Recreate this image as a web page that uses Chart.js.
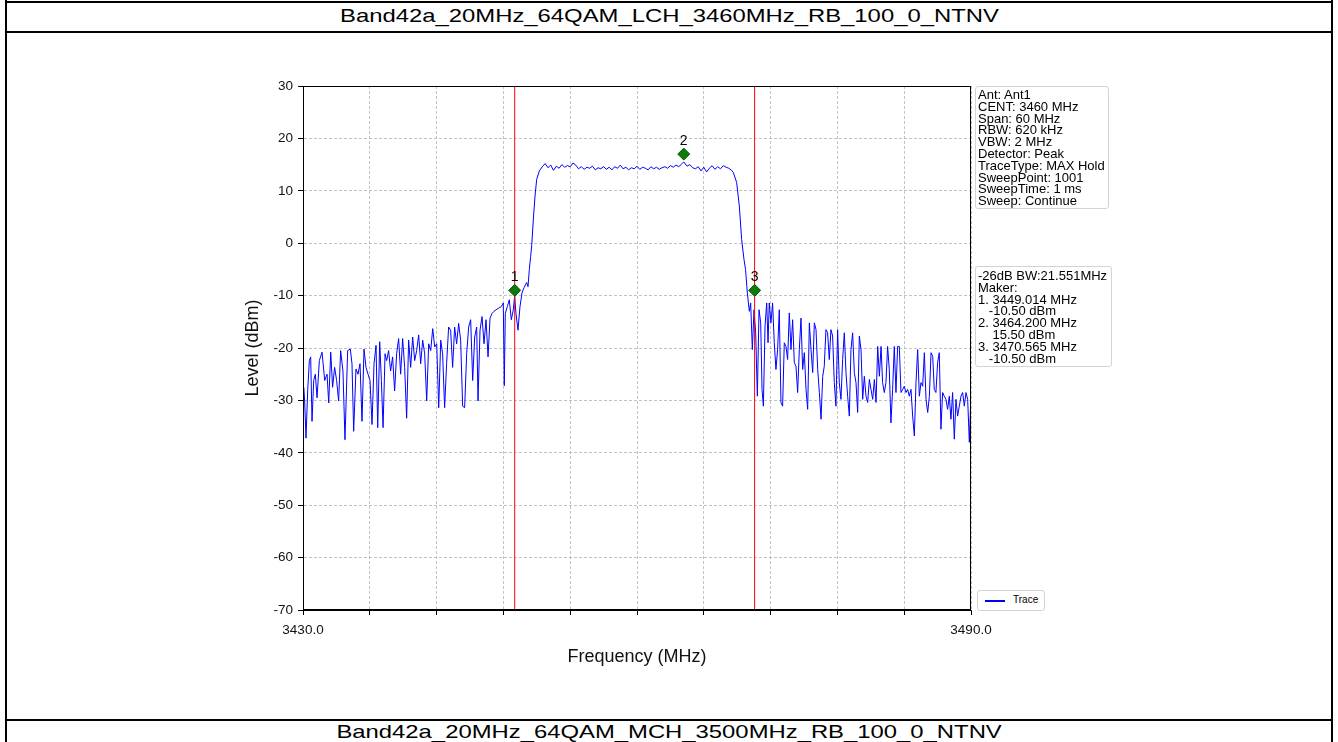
<!DOCTYPE html>
<html>
<head>
<meta charset="utf-8">
<script src="https://cdn.jsdelivr.net/npm/chart.js@4.4.0/dist/chart.umd.min.js"></script>
<style>
  body { margin: 0; width: 1338px; height: 742px; background: #fff; position: relative; overflow: hidden;
         font-family: "Liberation Sans", Arial, sans-serif; color: #000; }
  .rule { position: absolute; background: #000; }
  .caption { position: absolute; left: 0; width: 1338px; text-align: center; font-size: 19px; line-height: 22px; }
  .caption span { display: inline-block; transform: scaleX(1.255); }
  #plotBox { position: absolute; left: 218px; top: 40px; width: 909px; height: 672px; }
  .info { position: absolute; box-sizing: border-box; border: 1px solid #d4d4d4; border-radius: 3px; background: #fff;
          font-size: 13px; line-height: 11.8px; padding: 2px 0 0 2px; white-space: pre; }
  #legend { position: absolute; left: 977px; top: 590px; width: 68px; height: 21px; box-sizing: border-box;
            border: 1px solid #d4d4d4; border-radius: 3px; background: #fff; font-size: 10px; }
  #legend .swatch { position: absolute; left: 7px; top: 9px; width: 20px; height: 1.5px; background: #0000ff; }
  #legend .txt { position: absolute; left: 35px; top: 3px; }
</style>
</head>
<body>
<div class="rule" style="left:5px;top:0;width:2px;height:742px"></div>
<div class="rule" style="left:1331px;top:0;width:2px;height:742px"></div>
<div class="rule" style="left:5px;top:1px;width:1328px;height:2px"></div>
<div class="rule" style="left:5px;top:31px;width:1328px;height:2px"></div>
<div class="rule" style="left:5px;top:719px;width:1328px;height:2px"></div>
<div class="caption" style="top:5px"><span>Band42a_20MHz_64QAM_LCH_3460MHz_RB_100_0_NTNV</span></div>
<div class="caption" style="top:721px"><span>Band42a_20MHz_64QAM_MCH_3500MHz_RB_100_0_NTNV</span></div>

<div id="plotBox"><canvas id="specChart" width="909" height="672"></canvas></div>
<div class="info" id="settingsBox" style="left:975px;top:86px;width:134px;height:123px"></div>
<div class="info" id="markerBox" style="left:975px;top:266px;width:137px;height:101px;padding-top:3px"></div>
<div id="legend"><div class="swatch"></div><div class="txt">Trace</div></div>

<script>
// spectrum trace (MHz, dBm)
const traceFreq = [
  3430.00, 3430.06, 3430.15, 3430.27, 3430.42, 3430.57, 3430.69, 3430.81, 3430.96, 3431.11,
  3431.26, 3431.47, 3431.71, 3431.95, 3432.16, 3432.31, 3432.49, 3432.66, 3432.84, 3433.02,
  3433.20, 3433.38, 3433.59, 3433.77, 3434.01, 3434.25, 3434.40, 3434.55, 3434.76, 3434.94,
  3435.12, 3435.30, 3435.48, 3435.66, 3435.84, 3436.02, 3436.20, 3436.38, 3436.56, 3436.71,
  3436.89, 3437.04, 3437.19, 3437.37, 3437.51, 3437.69, 3437.87, 3438.05, 3438.23, 3438.41,
  3438.59, 3438.77, 3438.95, 3439.13, 3439.31, 3439.49, 3439.67, 3439.85, 3440.03, 3440.21,
  3440.39, 3440.57, 3440.75, 3440.93, 3441.11, 3441.29, 3441.47, 3441.65, 3441.83, 3442.01,
  3442.19, 3442.37, 3442.54, 3442.72, 3442.90, 3443.08, 3443.26, 3443.44, 3443.62, 3443.80,
  3443.98, 3444.16, 3444.34, 3444.52, 3444.70, 3444.88, 3445.06, 3445.24, 3445.42, 3445.60,
  3445.72, 3445.90, 3446.08, 3446.26, 3446.44, 3446.62, 3446.80, 3446.98, 3447.16, 3447.34,
  3447.57, 3447.81, 3447.99, 3448.08, 3448.17, 3448.35, 3448.53, 3448.71, 3448.89, 3449.01,
  3449.13, 3449.31, 3449.49, 3449.67, 3449.85, 3450.09, 3450.21, 3450.33, 3450.45, 3450.54,
  3450.69, 3450.84, 3450.99, 3451.23,
  3451.50, 3451.75, 3452.00, 3452.25, 3452.50, 3452.75, 3453.00, 3453.25, 3453.50, 3453.75,
  3454.00, 3454.25, 3454.50, 3454.75, 3455.00, 3455.25, 3455.50, 3455.75, 3456.00, 3456.25,
  3456.50, 3456.75, 3457.00, 3457.25, 3457.50, 3457.75, 3458.00, 3458.25, 3458.50, 3458.75,
  3459.00, 3459.25, 3459.50, 3459.75, 3460.00, 3460.25, 3460.50, 3460.75, 3461.00, 3461.25,
  3461.50, 3461.75, 3462.00, 3462.25, 3462.50, 3462.75, 3463.00, 3463.25, 3463.50, 3463.75,
  3464.00, 3464.20, 3464.50, 3464.75, 3465.00, 3465.25, 3465.50, 3465.75, 3466.00, 3466.25,
  3466.50, 3466.75, 3467.00, 3467.25, 3467.50, 3467.75, 3468.00, 3468.25, 3468.50,
  3468.65, 3468.95, 3469.19, 3469.40, 3469.61, 3469.75, 3469.91, 3470.09, 3470.21, 3470.36,
  3470.51, 3470.66, 3470.81, 3470.96, 3471.11, 3471.23, 3471.35, 3471.50, 3471.65, 3471.77,
  3471.88, 3472.03, 3472.18, 3472.33, 3472.48, 3472.63, 3472.78, 3472.93, 3473.08, 3473.23,
  3473.38, 3473.53, 3473.68, 3473.83, 3473.98, 3474.13, 3474.28, 3474.43, 3474.58, 3474.73,
  3474.88, 3475.03, 3475.18, 3475.33, 3475.48, 3475.63, 3475.78, 3475.93, 3476.08, 3476.23,
  3476.38, 3476.53, 3476.68, 3476.82, 3476.97, 3477.12, 3477.27, 3477.42, 3477.57, 3477.72,
  3477.87, 3478.02, 3478.17, 3478.32, 3478.47, 3478.62, 3478.77, 3478.92, 3479.07, 3479.22,
  3479.37, 3479.52, 3479.67, 3479.82, 3479.97, 3480.12, 3480.27, 3480.42, 3480.57, 3480.72,
  3480.87, 3481.02, 3481.17, 3481.32, 3481.47, 3481.62, 3481.77, 3481.92, 3482.06, 3482.21,
  3482.36, 3482.51, 3482.66, 3482.81, 3482.96, 3483.11, 3483.26, 3483.41, 3483.56, 3483.71,
  3483.86, 3484.01, 3484.16, 3484.31, 3484.46, 3484.61, 3484.76, 3484.91, 3485.06, 3485.21,
  3485.36, 3485.51, 3485.66, 3485.81, 3485.96, 3486.11, 3486.26, 3486.41, 3486.56, 3486.70,
  3486.85, 3487.00, 3487.15, 3487.30, 3487.45, 3487.60, 3487.75, 3487.90, 3488.05, 3488.20,
  3488.35, 3488.50, 3488.65, 3488.80, 3488.95, 3489.10, 3489.25, 3489.40, 3489.55, 3489.70,
  3489.85, 3489.97, 3490.00
];
const traceLevel = [
  -31.0, -27.5, -30.1, -37.2, -28.2, -22.4, -21.7, -34.0, -26.2, -25.0,
  -29.5, -22.4, -20.8, -26.2, -25.0, -30.5, -20.8, -27.5, -23.7, -26.2,
  -30.1, -20.5, -24.4, -37.5, -20.5, -20.2, -23.0, -35.9, -24.0, -25.0,
  -23.0, -34.0, -20.2, -23.7, -25.0, -26.2, -34.6, -23.0, -19.5, -35.2,
  -18.8, -26.2, -35.2, -21.1, -22.4, -20.5, -24.4, -21.7, -28.2, -21.1,
  -18.2, -25.0, -18.2, -23.7, -33.4, -18.5, -23.7, -17.9, -22.4, -20.5,
  -17.5, -23.0, -18.5, -21.1, -30.1, -19.2, -20.5, -16.3, -19.8, -19.2,
  -31.4, -18.5, -21.1, -31.4, -23.0, -16.0, -16.6, -23.7, -16.0, -19.2,
  -15.3, -18.5, -31.1, -31.4, -21.1, -16.0, -14.6, -26.2, -17.9, -16.0,
  -30.1, -16.6, -14.0, -19.2, -14.6, -21.7, -14.3, -13.4, -13.0, -12.7,
  -12.4, -12.1, -11.4, -27.2, -13.4, -12.1, -10.8, -14.6, -12.7, -10.1,
  -13.4, -16.6, -12.1, -9.5, -8.5, -7.5, -8.3, -5.0, -2.5, -0.5,
  4.6, 9.0, 12.2, 13.8,
  14.6, 15.2, 14.4, 14.9, 13.9, 14.7, 14.3, 15.0, 14.5, 14.8,
  14.6, 15.3, 14.9, 14.2, 14.6, 14.1, 14.5, 14.3, 14.7, 14.0,
  14.4, 14.2, 14.6, 14.1, 14.5, 14.0, 14.6, 14.3, 14.9, 14.2,
  14.5, 14.0, 14.4, 14.2, 14.7, 14.1, 14.5, 14.3, 14.0, 14.6,
  14.2, 14.5, 14.1, 14.4, 14.6, 14.3, 14.8, 14.5, 14.9, 14.6,
  15.1, 15.5, 14.7, 15.0, 14.4, 14.2, 14.6, 13.8, 14.5, 13.6,
  14.3, 14.8, 14.1, 14.6, 14.2, 14.8, 14.5, 14.3, 13.9,
  13.5, 11.6, 7.1, 0.7, -3.1, -5.0, -9.5, -13.0, -11.4, -20.3,
  -12.7, -17.1, -29.2, -12.7, -15.2, -27.9, -31.1, -15.8, -11.4, -19.0,
  -11.4, -15.2, -11.4, -19.0, -24.1, -20.3, -12.7, -30.4, -31.1, -19.0,
  -19.7, -22.2, -13.3, -20.3, -14.6, -22.8, -23.5, -28.5, -20.3, -14.3,
  -24.1, -20.9, -27.9, -31.7, -15.2, -20.3, -24.7, -15.2, -16.5, -24.1,
  -28.5, -33.6, -25.4, -23.5, -16.5, -17.1, -22.2, -16.5, -17.7, -26.6,
  -31.1, -16.5, -26.6, -29.8, -22.2, -17.1, -24.7, -29.2, -33.0, -20.3,
  -17.1, -24.7, -26.6, -32.3, -17.7, -20.3, -29.8, -25.4, -29.2, -30.4,
  -26.0, -27.9, -29.8, -26.0, -30.4, -19.7, -25.4, -19.7, -26.6, -28.5,
  -26.6, -19.7, -24.1, -34.3, -27.9, -19.7, -28.5, -19.7, -19.7, -28.5,
  -27.9, -27.3, -28.5, -27.9, -29.2, -27.9, -33.0, -36.8, -26.6, -20.3,
  -29.2, -26.6, -27.3, -20.9, -29.8, -32.3, -29.2, -20.9, -21.6, -27.9,
  -28.5, -22.8, -20.9, -35.5, -28.5, -29.2, -29.8, -31.7, -29.2, -33.6,
  -28.5, -37.4, -29.8, -33.0, -31.1, -29.2, -28.5, -31.1, -28.5, -29.8,
  -38.0, -30.4, -30.0
];

const xTickLabels = ['3430.0', '3490.0'];
const markerFreq = [3449.014, 3464.200, 3470.565];
const markerLevel = [-10.50, 15.50, -10.50];
const markerDrawLevel = [-9.0, 17.0, -9.0];   // where the diamonds sit in the picture
const bwEdges = [3449.014, 3470.565];
const bwText = '-26dB BW:21.551MHz';
const settingLines = ['Ant: Ant1', 'CENT: 3460 MHz', 'Span: 60 MHz', 'RBW: 620 kHz', 'VBW: 2 MHz',
  'Detector: Peak', 'TraceType: MAX Hold', 'SweepPoint: 1001', 'SweepTime: 1 ms', 'Sweep: Continue'];

document.getElementById('settingsBox').textContent = settingLines.join('\n');
const mk = [bwText, 'Maker:'];
markerFreq.forEach((f, i) => {
  mk.push((i + 1) + '. ' + f.toFixed(3) + ' MHz');
  mk.push('   ' + markerLevel[i].toFixed(2).padStart(6, ' ') + ' dBm');
});
document.getElementById('markerBox').textContent = mk.join('\n');

const family = '"Liberation Sans", Arial, sans-serif';

// frame around the plot + marker numbers
const framePlugin = {
  id: 'frame',
  afterDatasetsDraw(chart) {
    const { ctx, chartArea: a, scales } = chart;
    ctx.save();
    ctx.strokeStyle = '#000';
    ctx.lineWidth = 1;
    ctx.strokeRect(a.left + 0.5, a.top + 0.5, a.right - a.left - 1, a.bottom - a.top - 1);
    ctx.fillStyle = '#000';
    ctx.font = '14px ' + family;
    ctx.textAlign = 'center';
    ctx.textBaseline = 'middle';
    markerFreq.forEach((f, i) => {
      ctx.fillText(String(i + 1), scales.x.getPixelForValue(f), scales.y.getPixelForValue(markerDrawLevel[i]) - 13);
    });
    ctx.restore();
  }
};

const ctx = document.getElementById('specChart').getContext('2d');
new Chart(ctx, {
  type: 'scatter',
  data: {
    datasets: [
      {
        label: 'Trace',
        data: traceFreq.map((f, i) => ({ x: f, y: traceLevel[i] })),
        showLine: true,
        borderColor: '#0000ff',
        borderWidth: 1,
        pointRadius: 0,
        order: 3
      },
      ...bwEdges.map(f => ({
        data: [{ x: f, y: -70 }, { x: f, y: 30 }],
        showLine: true,
        borderColor: '#ff0000',
        borderWidth: 1,
        pointRadius: 0,
        order: 2
      })),
      {
        data: markerFreq.map((f, i) => ({ x: f, y: markerDrawLevel[i] })),
        pointStyle: 'rectRot',
        pointRadius: 6,
        backgroundColor: '#0a7a0a',
        borderColor: '#065c06',
        borderWidth: 1,
        order: 1
      }
    ]
  },
  options: {
    responsive: false,
    animation: false,
    devicePixelRatio: 1,
    layout: { padding: { left: 0, top: 46, right: 156, bottom: 0 } },
    plugins: { legend: { display: false }, tooltip: { enabled: false } },
    scales: {
      x: {
        type: 'linear',
        min: 3430,
        max: 3490,
        afterFit: s => { s.height = 102; },
        ticks: {
          stepSize: 6,
          autoSkip: false,
          maxRotation: 0,
          padding: 7,
          color: '#111',
          font: { family, size: 13.5 },
          callback: v => (v === 3430 ? xTickLabels[0] : v === 3490 ? xTickLabels[1] : '')
        },
        grid: { color: '#b4b4b4', lineWidth: 0.8, tickLength: 5, tickColor: '#000', tickWidth: 1 },
        border: { color: '#000', dash: [3, 2] },
        title: { display: true, text: 'Frequency (MHz)', color: '#111', font: { family, size: 18 }, padding: { top: 0, bottom: 44 } }
      },
      y: {
        min: -70,
        max: 30,
        afterFit: s => { s.width = 85; },
        ticks: { stepSize: 10, padding: 5, color: '#111', font: { family, size: 13.5 } },
        grid: { color: '#b4b4b4', lineWidth: 0.8, tickLength: 5, tickColor: '#000', tickWidth: 1 },
        border: { color: '#000', dash: [3, 2] },
        title: { display: true, text: 'Level (dBm)', color: '#111', font: { family, size: 18 }, padding: { top: 24, bottom: 0 } }
      }
    }
  },
  plugins: [framePlugin]
});
</script>
</body>
</html>
